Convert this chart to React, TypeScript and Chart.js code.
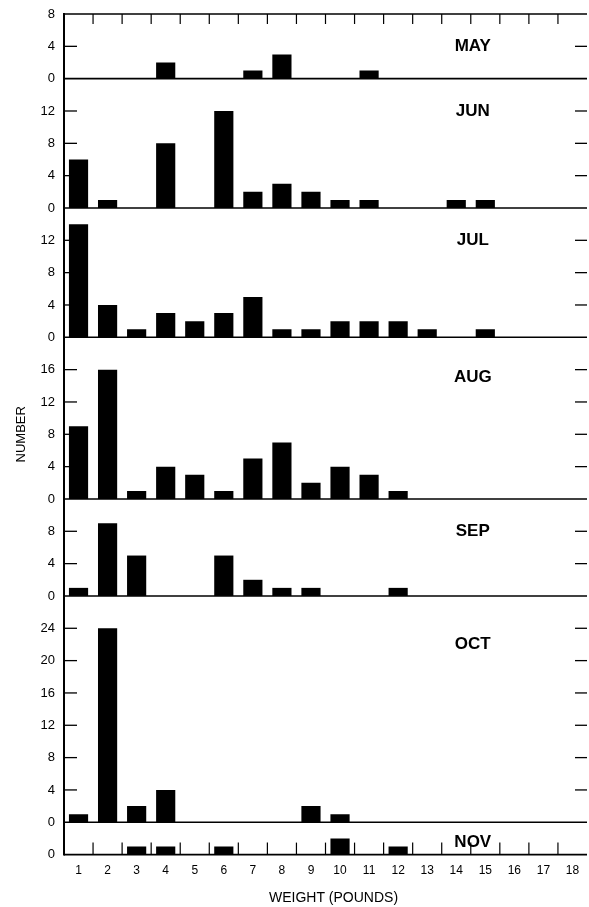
import React, { useEffect, useRef } from 'react';
import { Chart, registerables } from 'chart.js';

Chart.register(...registerables);

// ---- data ----
const weights = ['1', '2', '3', '4', '5', '6', '7', '8', '9', '10', '11', '12', '13', '14', '15', '16', '17', '18'];
const months = ['MAY', 'JUN', 'JUL', 'AUG', 'SEP', 'OCT', 'NOV'];
const may = [0, 0, 0, 2, 0, 0, 1, 3, 0, 0, 1, 0, 0, 0, 0, 0, 0, 0];
const jun = [6, 1, 0, 8, 0, 12, 2, 3, 2, 1, 1, 0, 0, 1, 1, 0, 0, 0];
const jul = [14, 4, 1, 3, 2, 3, 5, 1, 1, 2, 2, 2, 1, 0, 1, 0, 0, 0];
const aug = [9, 16, 1, 4, 3, 1, 5, 7, 2, 4, 3, 1, 0, 0, 0, 0, 0, 0];
const sep = [1, 9, 5, 0, 0, 5, 2, 1, 1, 0, 0, 1, 0, 0, 0, 0, 0, 0];
const oct = [1, 24, 2, 4, 0, 0, 0, 0, 2, 1, 0, 0, 0, 0, 0, 0, 0, 0];
const nov = [0, 0, 1, 1, 0, 1, 0, 0, 0, 2, 0, 1, 0, 0, 0, 0, 0, 0];
const series = [may, jun, jul, aug, sep, oct, nov];
const axisMax = [8, 16, 16, 20, 12, 28, 4];
const yStep = 4;
const xTitle = 'WEIGHT (POUNDS)';
const yTitle = 'NUMBER';

// where each month name sits (value on its own panel's scale)
const monthLabelAt = [4, 12, 12, 15, 8, 22, 1.5];

const FONT = '"Liberation Sans", Arial, Helvetica, sans-serif';

const framePlugin = {
  id: 'frame',
  afterDatasetsDraw(chart: any) {
    const { ctx, chartArea: a } = chart;
    const xs = chart.scales.x;
    const topScale = chart.scales['y' + months[0]];
    const botScale = chart.scales['y' + months[months.length - 1]];
    const top = topScale.getPixelForValue(axisMax[0]);
    const bottom = botScale.getPixelForValue(0);
    const line = (x1: number, y1: number, x2: number, y2: number) => {
      ctx.beginPath();
      ctx.moveTo(x1, y1);
      ctx.lineTo(x2, y2);
      ctx.stroke();
    };
    ctx.save();
    ctx.strokeStyle = '#000';
    ctx.lineCap = 'butt';
    // left axis
    ctx.lineWidth = 2;
    line(a.left, top - 1, a.left, bottom + 1);
    // separators + inner ticks
    ctx.lineWidth = 1.6;
    line(a.left, top, a.right, top);
    months.forEach((m, i) => {
      const s = chart.scales['y' + m];
      const y0 = s.getPixelForValue(0);
      line(a.left, y0, a.right, y0);
      ctx.lineWidth = 1.3;
      s.ticks.forEach((t: any) => {
        if (t.value === 0 || t.value === axisMax[i]) return;
        const y = s.getPixelForValue(t.value);
        line(a.left, y, a.left + 13, y);
        line(a.right - 12, y, a.right, y);
      });
      ctx.lineWidth = 1.6;
    });
    // category boundary ticks top & bottom
    ctx.lineWidth = 1.2;
    for (let k = 0; k < weights.length - 1; k++) {
      const xb = (xs.getPixelForValue(k) + xs.getPixelForValue(k + 1)) / 2;
      line(xb, top, xb, top + 10);
      line(xb, bottom, xb, bottom - 12);
    }
    // month names
    ctx.fillStyle = '#000';
    ctx.font = 'bold 17px ' + FONT;
    ctx.textAlign = 'center';
    ctx.textBaseline = 'middle';
    const lx = (xs.getPixelForValue(13) + xs.getPixelForValue(14)) / 2 + 2;
    months.forEach((m, i) => {
      const s = chart.scales['y' + m];
      ctx.fillText(m, lx, s.getPixelForValue(monthLabelAt[i]));
    });
    // x title
    ctx.font = '14px ' + FONT;
    ctx.fillText(xTitle, (a.left + a.right) / 2 + 8, bottom + 44);
    // y title
    ctx.font = '13px ' + FONT;
    ctx.translate(21, (top + bottom) / 2);
    ctx.rotate(-Math.PI / 2);
    ctx.fillText(yTitle, 0, 0);
    ctx.restore();
  },
};

export default function App() {
  const ref = useRef<HTMLCanvasElement>(null);
  useEffect(() => {
    const scales: any = {
      x: {
        type: 'category',
        labels: weights,
        offset: true,
        grid: { display: false, drawTicks: false },
        border: { display: false },
        ticks: { color: '#000', font: { family: FONT, size: 12 }, padding: 9, maxRotation: 0, autoSkip: false },
      },
    };
    // define bottom panel first so the top panel ends up on top of the stack
    for (let i = months.length - 1; i >= 0; i--) {
      const max = axisMax[i];
      const idx = i;
      scales['y' + months[i]] = {
        type: 'linear',
        position: 'left',
        stack: 'months',
        stackWeight: max,
        min: 0,
        max,
        grid: { display: false, drawTicks: false },
        border: { display: false },
        ticks: {
          stepSize: yStep,
          autoSkip: false,
          padding: 9,
          color: '#000',
          font: { family: FONT, size: 13 },
          callback: (v: number) => (v === max && idx !== 0 ? '' : String(v)),
        },
        afterFit: (s: any) => {
          s.width = 64;
          s.paddingTop = 8;
          s.paddingBottom = 8;
        },
      };
    }
    const chart = new Chart(ref.current!, {
      type: 'bar',
      data: {
        labels: weights,
        datasets: months.map((m, i) => ({
          label: m,
          data: series[i],
          yAxisID: 'y' + m,
          xAxisID: 'x',
          backgroundColor: '#000',
          borderWidth: 0,
          barPercentage: 0.66,
          categoryPercentage: 1,
          grouped: false,
        })),
      } as any,
      options: {
        animation: false,
        responsive: true,
        maintainAspectRatio: false,
        layout: { padding: { top: 14, left: 0, right: 2, bottom: 20 } },
        plugins: { legend: { display: false }, tooltip: { enabled: false }, title: { display: false } },
        scales,
      } as any,
      plugins: [framePlugin],
    });
    return () => chart.destroy();
  }, []);
  return (
    <div style={{ position: 'absolute', left: 0, top: 0, width: 589, height: 907, background: '#fff' }}>
      <canvas ref={ref} />
    </div>
  );
}
